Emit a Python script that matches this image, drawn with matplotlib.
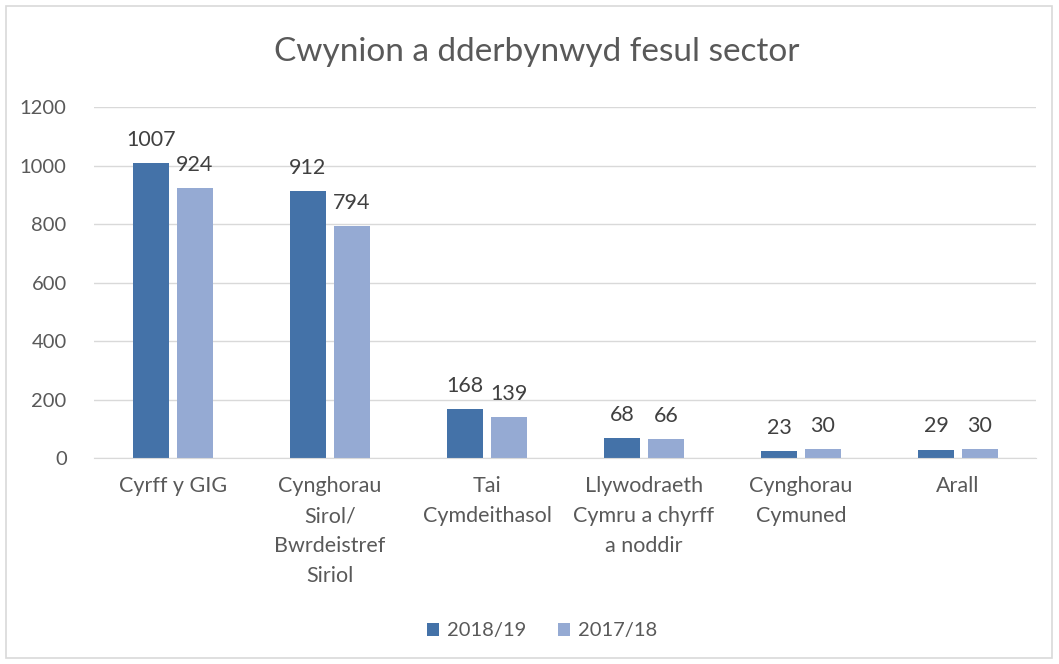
import matplotlib.pyplot as plt
import numpy as np
from matplotlib.patches import Rectangle

# data
categories = ['Cyrff y GIG', 'Cynghorau\nSirol/\nBwrdeistref\nSiriol', 'Tai\nCymdeithasol',
              'Llywodraeth\nCymru a chyrff\na noddir', 'Cynghorau\nCymuned', 'Arall']
vals_1819 = [1007, 912, 168, 68, 23, 29]
vals_1718 = [924, 794, 139, 66, 30, 30]
yticks = [0, 200, 400, 600, 800, 1000, 1200]

plt.rcParams['font.family'] = ['Lato', 'DejaVu Sans']
txt = '#595959'
c_dark = '#4472A8'
c_light = '#95AAD3'

fig = plt.figure(figsize=(10.59, 6.64), dpi=100)
ax = fig.add_axes([0.0892, 0.3102, 0.8895, 0.5286])

x = np.arange(len(categories))
w = 0.23
ax.bar(x - 0.14, vals_1819, w, color=c_dark, label='2018/19', zorder=3)
ax.bar(x + 0.14, vals_1718, w, color=c_light, label='2017/18', zorder=3)

# value labels above the bars
for xi, v in zip(x, vals_1819):
    ax.text(xi - 0.14, v + 45, str(v), ha='center', va='bottom', fontsize=15.5, color='#404040')
for xi, v in zip(x, vals_1718):
    ax.text(xi + 0.14, v + 45, str(v), ha='center', va='bottom', fontsize=15.5, color='#404040')

ax.set_xlim(-0.5, len(categories) - 0.5)
ax.set_ylim(0, 1200)
ax.set_yticks(yticks)
ax.set_yticklabels([str(t) for t in yticks], fontsize=14.5, color=txt)
ax.set_xticks(x)
ax.set_xticklabels(categories, fontsize=15.5, color=txt, linespacing=1.62, va='top')
ax.tick_params(axis='y', length=0, pad=20)
ax.tick_params(axis='x', length=0, pad=13)
ax.grid(axis='y', color='#D9D9D9', linewidth=1, zorder=0)
for s in ['top', 'right', 'left']:
    ax.spines[s].set_visible(False)
ax.spines['bottom'].set_color('#D9D9D9')
ax.spines['bottom'].set_zorder(4)

fig.text(0.507, 0.922, 'Cwynion a dderbynwyd fesul sector', ha='center', va='center',
         fontsize=24, color=txt)

leg = fig.legend(loc='center', bbox_to_anchor=(0.512, 0.05), ncol=2, frameon=False,
                 fontsize=14.5, handlelength=0.6, handleheight=0.6, columnspacing=1.6,
                 handletextpad=0.4)
for t in leg.get_texts():
    t.set_color(txt)

fig.patches.append(Rectangle((6 / 1059, 6 / 664), 1046 / 1059, 652 / 664,
                             transform=fig.transFigure, fill=False,
                             edgecolor='#D9D9D9', linewidth=1.2))

fig.savefig('out.png', dpi=100)
